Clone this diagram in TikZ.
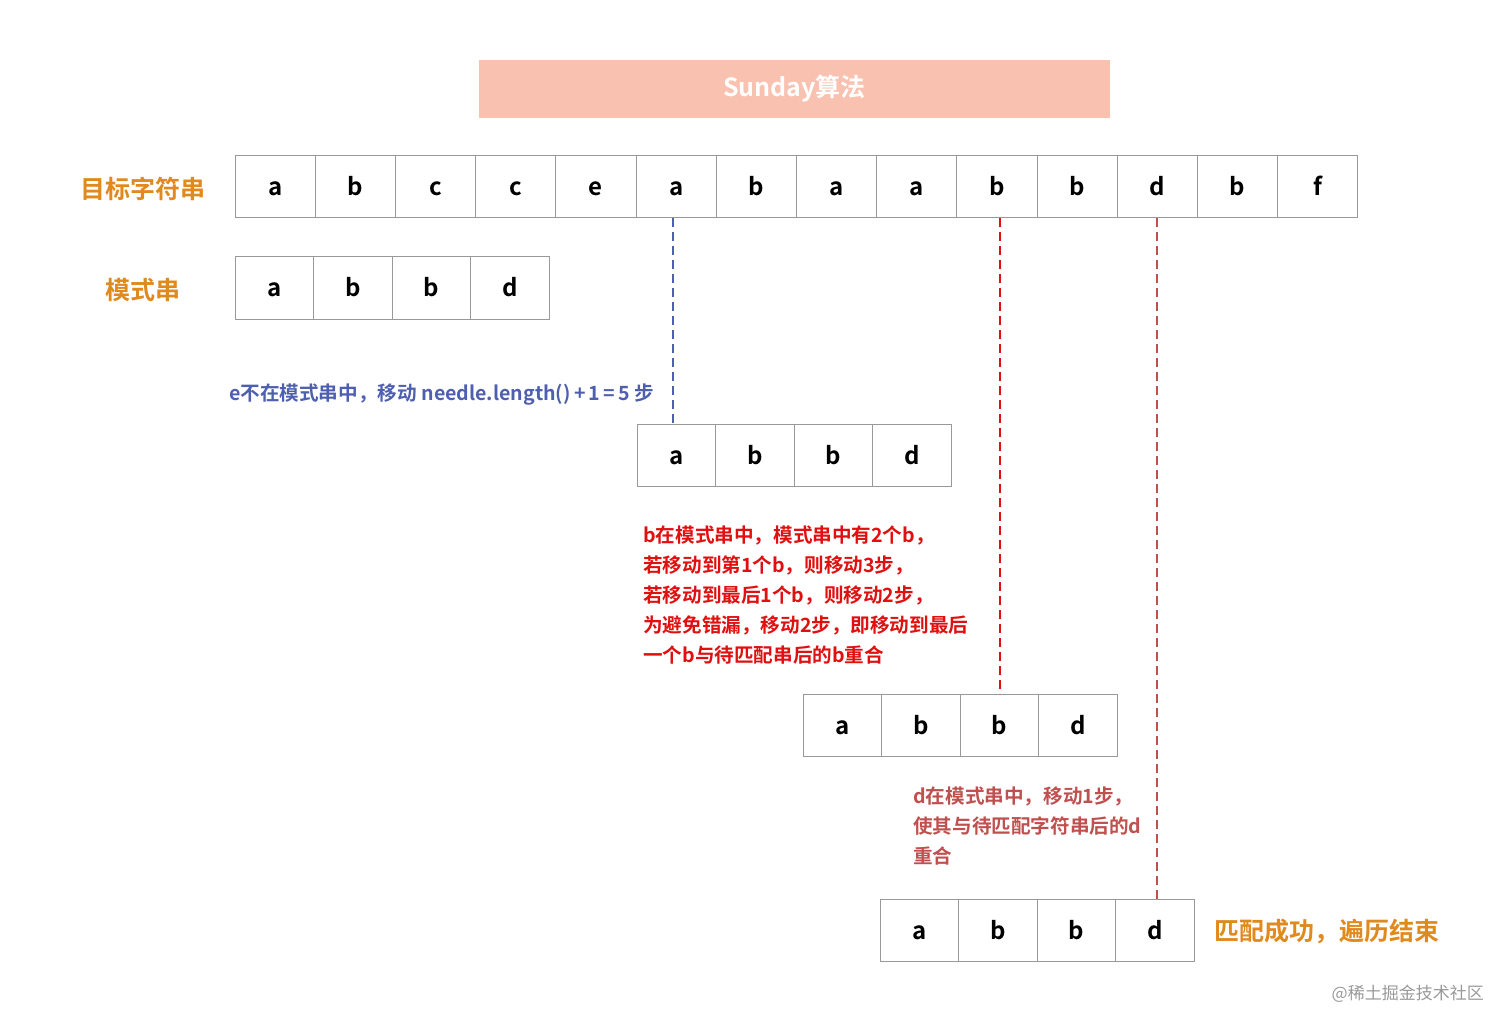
\documentclass[tikz,border=0pt]{standalone}
\usepackage{fontspec}
\setmainfont{Noto Sans CJK SC}[BoldFont={Noto Sans CJK SC Bold}]
\begin{document}
\begin{tikzpicture}[x=1pt,y=-1pt]
\definecolor{orng}{HTML}{E08A1E}
\definecolor{blu}{HTML}{4F5FB0}
\definecolor{rd}{HTML}{E01010}
\definecolor{rd2}{HTML}{C0504F}
\definecolor{salmon}{HTML}{F8C1B0}
\definecolor{gr}{HTML}{999999}
\useasboundingbox (0,0) rectangle (1512,1032);
\tikzset{cell/.style={draw=gr,line width=1pt,minimum height=62pt,inner sep=0pt,text height=18pt,text depth=0pt,font=\fontsize{24}{24}\selectfont\bfseries},
lbl/.style={font=\fontsize{25}{25}\selectfont\bfseries,text=orng},
note/.style={font=\fontsize{19.6}{30}\selectfont\bfseries,anchor=west,align=left,inner sep=0pt}}
\node[fill=salmon,minimum width=631pt,minimum height=58pt,text=white,font=\fontsize{25}{25}\selectfont\bfseries] (title) at (794.5,89) {Sunday算法};
\foreach \c [count=\i from 0] in {a,b,c,c,e,a,b,a,a,b,b,d,b,f}
  \node[cell,minimum width=80.2pt] (t\i) at (235+40.1+80.2*\i,187) {\c};
\newcommand{\pat}[3]{\foreach \c [count=\i from 0] in {a,b,b,d}
  \node[cell,minimum width=78.5pt] (#1\i) at (#2+39.25+78.5*\i,#3) {\c};}
\pat{p}{235}{288}
\pat{q}{637}{455}
\pat{r}{803}{725}
\pat{s}{880}{930}
\node[lbl] (l1) at (143,189) {目标字符串};
\node[lbl] (l2) at (143,290) {模式串};
\coordinate (b1) at (673,218); \coordinate (b2) at (673,424);
\draw[blu,line width=1.3pt,dash pattern=on 9pt off 5pt] (b1) -- (b2);
\coordinate (r1) at (1000,218); \coordinate (r2) at (1000,694);
\draw[rd,line width=1.3pt,dash pattern=on 9pt off 5pt] (r1) -- (r2);
\coordinate (s1) at (1157,218); \coordinate (s2) at (1157,899);
\draw[rd2,line width=1.3pt,dash pattern=on 9pt off 5pt] (s1) -- (s2);
\node[note,text=blu] (n1) at (229,395) {e不在模式串中，移动 needle.length()\,+\,1\,=\,5 步};
\node[note,text=rd,anchor=north west] (n2) at (643,526) {b在模式串中，模式串中有2个b，\\若移动到第1个b，则移动3步，\\若移动到最后1个b，则移动2步，\\为避免错漏，移动2步，即移动到最后\\一个b与待匹配串后的b重合};
\node[note,text=rd2,anchor=north west] (n3) at (913,787) {d在模式串中，移动1步，\\使其与待匹配字符串后的d\\重合};
\node[lbl,anchor=west,inner sep=0pt] (n4) at (1214,931) {匹配成功，遍历结束};
\node[anchor=east,text=gr,font=\fontsize{17}{17}\selectfont,inner sep=0pt] (wm) at (1484,994) {@稀土掘金技术社区};
\end{tikzpicture}
\end{document}
